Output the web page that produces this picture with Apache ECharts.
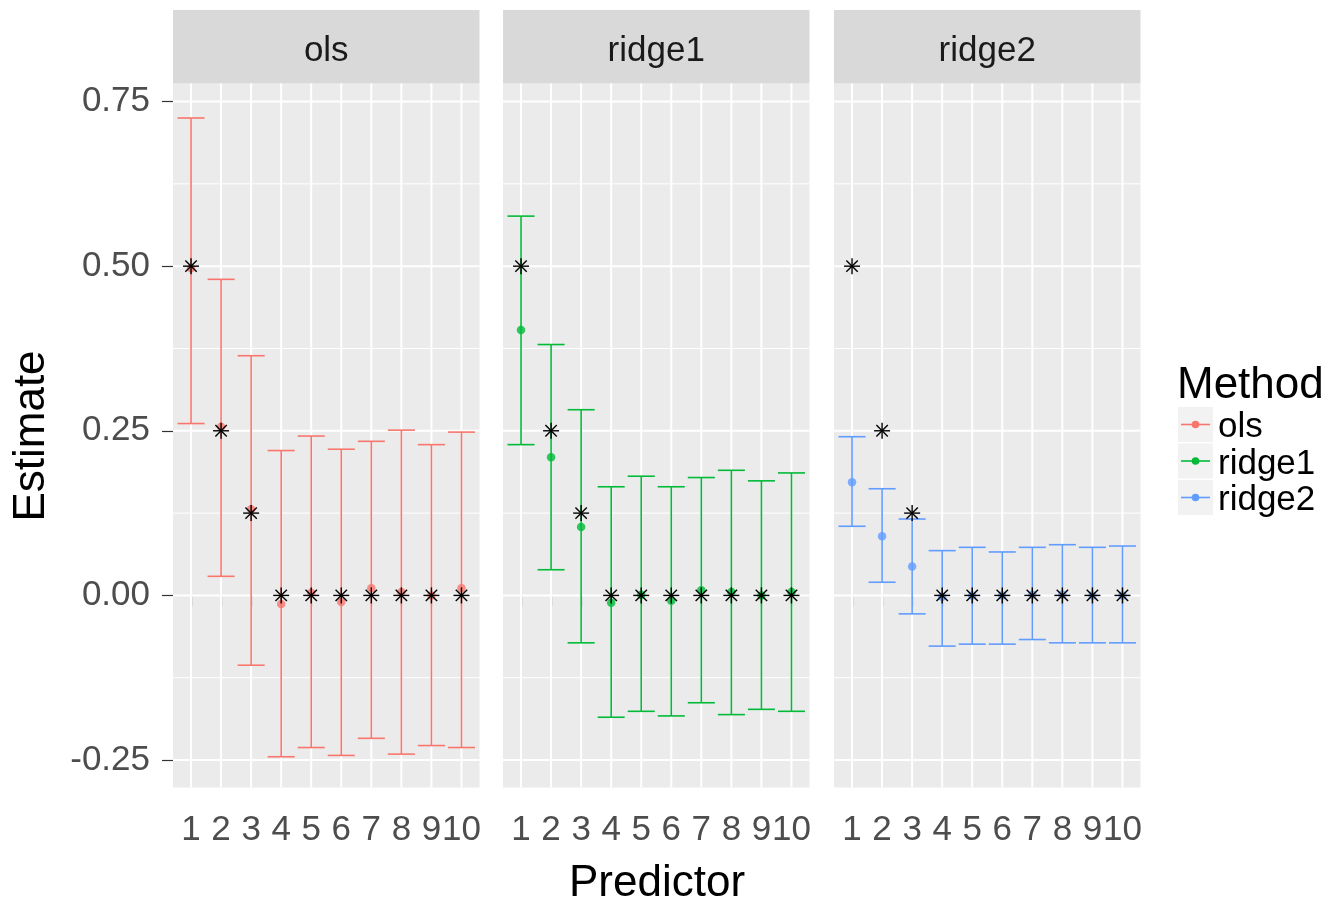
<!DOCTYPE html>
<html><head><meta charset="utf-8">
<script src="https://cdn.jsdelivr.net/npm/echarts@6/dist/echarts.min.js"></script>
<style>html,body{margin:0;padding:0;background:#fff}#c{width:1343px;height:905px}</style>
</head><body><div id="c"></div>
<script>
// ---- data ----
const methods = ['ols', 'ridge1', 'ridge2'];
const predictors = [1, 2, 3, 4, 5, 6, 7, 8, 9, 10];
const trueValues = [0.5, 0.25, 0.125, 0, 0, 0, 0, 0, 0, 0];

const olsEstimate = [0.497, 0.256, 0.131, -0.013, 0.004, -0.010, 0.011, 0.005, 0.000, 0.011];
const olsLower    = [0.261, 0.029, -0.106, -0.245, -0.231, -0.243, -0.217, -0.241, -0.228, -0.231];
const olsUpper    = [0.725, 0.480, 0.364, 0.220, 0.242, 0.222, 0.234, 0.251, 0.229, 0.248];

const ridge1Estimate = [0.403, 0.210, 0.104, -0.011, 0.001, -0.008, 0.008, 0.005, 0.000, 0.005];
const ridge1Lower    = [0.229, 0.039, -0.072, -0.185, -0.176, -0.183, -0.163, -0.181, -0.173, -0.176];
const ridge1Upper    = [0.576, 0.381, 0.282, 0.165, 0.181, 0.165, 0.179, 0.190, 0.174, 0.186];

const ridge2Estimate = [0.172, 0.090, 0.044, -0.002, 0.000, 0.000, 0.001, 0.001, 0.000, 0.000];
const ridge2Lower    = [0.105, 0.020, -0.028, -0.077, -0.074, -0.074, -0.067, -0.072, -0.072, -0.072];
const ridge2Upper    = [0.241, 0.162, 0.116, 0.068, 0.073, 0.066, 0.073, 0.077, 0.073, 0.075];

const yMajorTicks = [-0.25, 0, 0.25, 0.5, 0.75];
const yTickLabels = ['-0.25', '0.00', '0.25', '0.50', '0.75'];
const yMinorLines = [-0.125, 0.125, 0.375, 0.625];

// ---- styling / layout ----
const colors = ['#F8766D', '#00BA38', '#619CFF'];
const FONT = 'Liberation Sans, Arial, sans-serif';
const panelLefts = [173, 503, 834];
const panelWidth = 306.5;
const panelTop = 83.5;
const panelHeight = 704;
const stripTop = 10;
const yMin = -0.2917, yMax = 0.7774;
const xMin = 0.4, xMax = 10.6;
const capHalf = 0.45;

const estimates = [olsEstimate, ridge1Estimate, ridge2Estimate];
const lowers = [olsLower, ridge1Lower, ridge2Lower];
const uppers = [olsUpper, ridge1Upper, ridge2Upper];

const grids = [], xAxes = [], yAxes = [], series = [], graphics = [];

function hLines(width) {
  return function (params, api) {
    const cs = params.coordSys;
    const y = api.coord([1, api.value(1)])[1];
    return { type: 'line', shape: { x1: cs.x, y1: y, x2: cs.x + cs.width, y2: y },
      style: { stroke: '#ffffff', lineWidth: width } };
  };
}
function vLines(params, api) {
  const cs = params.coordSys;
  const x = api.coord([api.value(0), 0])[0];
  return { type: 'line', shape: { x1: x, y1: cs.y, x2: x, y2: cs.y + cs.height },
    style: { stroke: '#ffffff', lineWidth: 2 } };
}
function errorBar(color) {
  return function (params, api) {
    const x = api.value(0), lo = api.value(1), hi = api.value(2);
    const pLo = api.coord([x, lo]), pHi = api.coord([x, hi]);
    const cl = api.coord([x - capHalf, hi])[0], cr = api.coord([x + capHalf, hi])[0];
    const style = { stroke: color, lineWidth: 1.6 };
    return { type: 'group', children: [
      { type: 'line', shape: { x1: pLo[0], y1: pLo[1], x2: pHi[0], y2: pHi[1] }, style },
      { type: 'line', shape: { x1: cl, y1: pHi[1], x2: cr, y2: pHi[1] }, style },
      { type: 'line', shape: { x1: cl, y1: pLo[1], x2: cr, y2: pLo[1] }, style }
    ] };
  };
}
function asterisk(params, api) {
  const c = api.coord([api.value(0), api.value(1)]);
  const r = 8, d = 5.7;
  const style = { stroke: '#000000', lineWidth: 1.4 };
  return { type: 'group', children: [
    { type: 'line', shape: { x1: c[0] - r, y1: c[1], x2: c[0] + r, y2: c[1] }, style },
    { type: 'line', shape: { x1: c[0], y1: c[1] - r, x2: c[0], y2: c[1] + r }, style },
    { type: 'line', shape: { x1: c[0] - d, y1: c[1] - d, x2: c[0] + d, y2: c[1] + d }, style },
    { type: 'line', shape: { x1: c[0] - d, y1: c[1] + d, x2: c[0] + d, y2: c[1] - d }, style }
  ] };
}

methods.forEach((m, i) => {
  grids.push({ left: panelLefts[i], top: panelTop, width: panelWidth, height: panelHeight,
    show: true, backgroundColor: '#ebebeb', borderWidth: 0 });
  xAxes.push({ type: 'value', gridIndex: i, min: xMin, max: xMax,
    axisLine: { show: false }, splitLine: { show: false },
    axisTick: { show: true, length: 11, customValues: predictors, lineStyle: { color: '#333333', width: 1.2 } },
    axisLabel: { show: true, customValues: predictors, margin: 25, fontSize: 35, color: '#4d4d4d',
      fontFamily: FONT, formatter: v => String(Math.round(v)) } });
  yAxes.push({ type: 'value', gridIndex: i, min: yMin, max: yMax,
    axisLine: { show: false }, splitLine: { show: false },
    axisTick: { show: i === 0, length: 11, customValues: yMajorTicks, lineStyle: { color: '#333333', width: 1.2 } },
    axisLabel: { show: i === 0, customValues: yMajorTicks, margin: 23, fontSize: 35, color: '#4d4d4d',
      fontFamily: FONT, formatter: v => yTickLabels[yMajorTicks.findIndex(t => Math.abs(t - v) < 1e-6)] } });

  series.push({ type: 'custom', xAxisIndex: i, yAxisIndex: i, z: 1, silent: true,
    renderItem: hLines(1), data: yMinorLines.map(v => [1, v]) });
  series.push({ type: 'custom', xAxisIndex: i, yAxisIndex: i, z: 1, silent: true,
    renderItem: hLines(2), data: yMajorTicks.map(v => [1, v]) });
  series.push({ type: 'custom', xAxisIndex: i, yAxisIndex: i, z: 1, silent: true,
    renderItem: vLines, data: predictors.map(p => [p, 0]) });
  series.push({ name: m, type: 'custom', xAxisIndex: i, yAxisIndex: i, z: 2,
    renderItem: errorBar(colors[i]),
    data: predictors.map((p, k) => [p, lowers[i][k], uppers[i][k]]) });
  series.push({ name: m, type: 'scatter', xAxisIndex: i, yAxisIndex: i, z: 3,
    symbol: 'circle', symbolSize: 8.5, itemStyle: { color: colors[i] },
    data: predictors.map((p, k) => [p, estimates[i][k]]) });
  series.push({ type: 'custom', xAxisIndex: i, yAxisIndex: i, z: 4, renderItem: asterisk,
    data: predictors.map((p, k) => [p, trueValues[k]]) });

  // facet strip
  graphics.push({ type: 'rect', left: panelLefts[i], top: stripTop,
    shape: { width: panelWidth, height: panelTop - stripTop }, style: { fill: '#d9d9d9' } });
  graphics.push({ type: 'text', x: panelLefts[i] + panelWidth / 2, y: 51,
    style: { text: m, fontSize: 35, fontFamily: FONT, fill: '#1a1a1a', align: 'center', verticalAlign: 'middle' } });
});

// axis titles
graphics.push({ type: 'text', x: 657, y: 884,
  style: { text: 'Predictor', fontSize: 44, fontFamily: FONT, fill: '#000000', align: 'center', verticalAlign: 'middle' } });
graphics.push({ type: 'text', x: 32, y: 436, rotation: Math.PI / 2,
  style: { text: 'Estimate', fontSize: 44, fontFamily: FONT, fill: '#000000', align: 'center', verticalAlign: 'middle' } });

// legend
graphics.push({ type: 'text', x: 1177, y: 386,
  style: { text: 'Method', fontSize: 44, fontFamily: FONT, fill: '#000000', align: 'left', verticalAlign: 'middle' } });
methods.forEach((m, i) => {
  const top = 407 + i * 36.5;
  const cy = top + 17.5;
  graphics.push({ type: 'rect', left: 1178, top: top, shape: { width: 35, height: 35 }, style: { fill: '#f2f2f2' } });
  graphics.push({ type: 'line', shape: { x1: 1181, y1: cy, x2: 1210, y2: cy }, style: { stroke: colors[i], lineWidth: 1.6 } });
  graphics.push({ type: 'circle', shape: { cx: 1195.5, cy: cy, r: 3.8 }, style: { fill: colors[i] } });
  graphics.push({ type: 'text', x: 1218, y: cy + 3,
    style: { text: m, fontSize: 35, fontFamily: FONT, fill: '#000000', align: 'left', verticalAlign: 'middle' } });
});

const chart = echarts.init(document.getElementById('c'), null, { renderer: 'canvas' });
chart.setOption({
  animation: false,
  backgroundColor: '#ffffff',
  textStyle: { fontFamily: FONT },
  grid: grids, xAxis: xAxes, yAxis: yAxes, series: series, graphic: graphics
});
</script>
</body></html>
